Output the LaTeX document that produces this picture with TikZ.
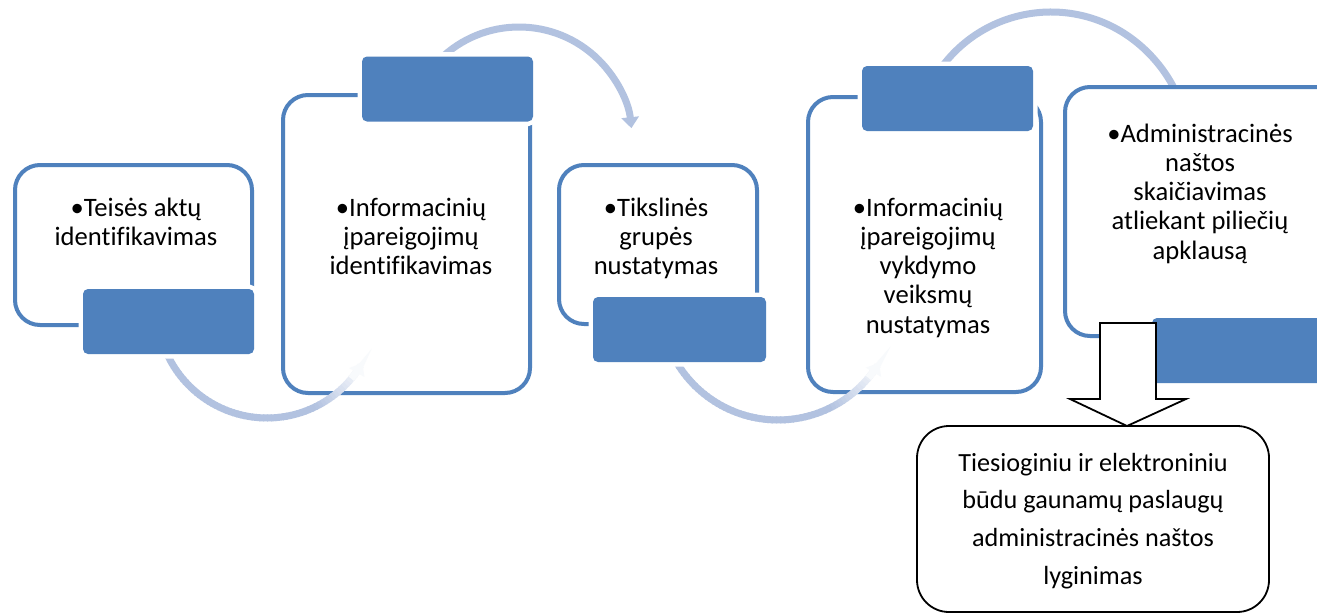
\documentclass[tikz,border=0pt]{standalone}
\usepackage{fontspec}
\setmainfont{Carlito}[Ligatures=NoCommon]
\usetikzlibrary{arrows.meta}
\definecolor{accent}{HTML}{4F81BD}
\definecolor{arcc}{HTML}{B2C2E0}
\begin{document}
\begin{tikzpicture}[x=1pt,y=-1pt,
  outbox/.style={draw=accent, line width=4pt, rounded corners=25pt, inner sep=0pt, rectangle},
  tab/.style={fill=accent, rounded corners=5pt, inner sep=0pt, rectangle,
              preaction={draw=white, line width=9pt}, minimum height=65pt},
  arcline/.style={line width=7pt},
  tipend/.style={-{Triangle[width=17pt,length=11pt]}},
  txt/.style={anchor=north, inner sep=0pt, align=center, text=black,
              font=\fontsize{26.6}{29.2}\selectfont},
  resbox/.style={draw=black, line width=1.8pt, fill=white, rounded corners=32pt, inner sep=0pt, rectangle},
  bigarrow/.style={draw=black, line width=1.8pt, fill=white, line join=miter},
]
\clip (0,0) rectangle (1317,614);
\fill[white] (0,0) rectangle (1317,614);

% outlined boxes
\node[outbox, minimum width=237pt, minimum height=160pt] (b1) at (133.5,245) {};
\node[outbox, minimum width=247pt, minimum height=298pt] (b2) at (406.5,244) {};
\node[outbox, minimum width=198pt, minimum height=159pt] (b3) at (658,244.5) {};
\node[outbox, minimum width=233pt, minimum height=295pt] (b4) at (924.5,244.5) {};

% arc centres
\coordinate (c1) at (267,308);
\coordinate (c2) at (519,140);
\coordinate (c3) at (778,302);
\coordinate (c4) at (1051,148);

% arc 1 (bottom, fading)
\foreach \a in {160,158,...,34}{
  \pgfmathtruncatemacro\t{max(9,min(100,100-(65-\a)*3))}
  \draw[arcline, draw=arcc!\t!white] ([shift={(c1)}]\a:110) arc[start angle=\a, end angle=\a-2.6, radius=110];
}
\draw[arcline, draw=arcc!9!white, tipend] ([shift={(c1)}]40:110) arc[start angle=40, end angle=30, radius=110];

% arc 3 (bottom, fading)
\foreach \a in {155,153,...,35}{
  \pgfmathtruncatemacro\t{max(9,min(100,100-(65-\a)*3))}
  \draw[arcline, draw=arcc!\t!white] ([shift={(c3)}]\a:118) arc[start angle=\a, end angle=\a-2.6, radius=118];
}
\draw[arcline, draw=arcc!9!white, tipend] ([shift={(c3)}]40:118) arc[start angle=40, end angle=31, radius=118];

% arc 2 (top)
\draw[arcline, draw=arcc, tipend] ([shift={(c2)}]-135:113) arc[start angle=-135, end angle=-6, radius=113];

% arc 4 (top, runs behind box 5)
\draw[arcline, draw=arcc, tipend] ([shift={(c4)}]-145:136) arc[start angle=-145, end angle=-8, radius=136];

% box 5 covers the end of arc 4
\node[outbox, fill=white, minimum width=280pt, minimum height=249pt] (b5) at (1205,211.5) {};

% filled tabs
\node[tab, minimum width=171pt] (r1) at (168.5,321.5) {};
\node[tab, minimum width=171pt] (r2) at (447.5,89) {};
\node[tab, minimum width=173pt] (r3) at (679.5,329.5) {};
\node[tab, minimum width=171pt] (r4) at (947.5,98.5) {};
\node[tab, minimum width=193pt] (r5) at (1248.5,350.5) {};

% result box
\node[resbox, minimum width=352pt, minimum height=186pt] (bb) at (1093,519) {};

% block arrow down
\draw[bigarrow] (1100,323) -- (1156,323) -- (1156,399) -- (1186,399) -- (1127,426)
  -- (1070,399) -- (1100,399) -- cycle;

% texts
\node[txt] (t1) at (136,196) {\rule{0pt}{20pt}•Teisės aktų\\identifikavimas};
\node[txt] (t2) at (411,196) {\rule{0pt}{20pt}•Informacinių\\įpareigojimų\\identifikavimas};
\node[txt] (t3) at (656,196) {\rule{0pt}{20pt}•Tikslinės\\grupės\\nustatymas};
\node[txt] (t4) at (928,196) {\rule{0pt}{20pt}•Informacinių\\įpareigojimų\\vykdymo\\veiksmų\\nustatymas};
\node[txt] (t5) at (1200,122) {\rule{0pt}{20pt}•Administracinės\\naštos\\skaičiavimas\\atliekant piliečių\\apklausą};
\node[txt, font=\fontsize{26.2}{37.6}\selectfont] (t6) at (1093,451) {\rule{0pt}{20pt}Tiesioginiu ir elektroniniu\\būdu gaunamų paslaugų\\administracinės naštos\\lyginimas};
\end{tikzpicture}
\end{document}
